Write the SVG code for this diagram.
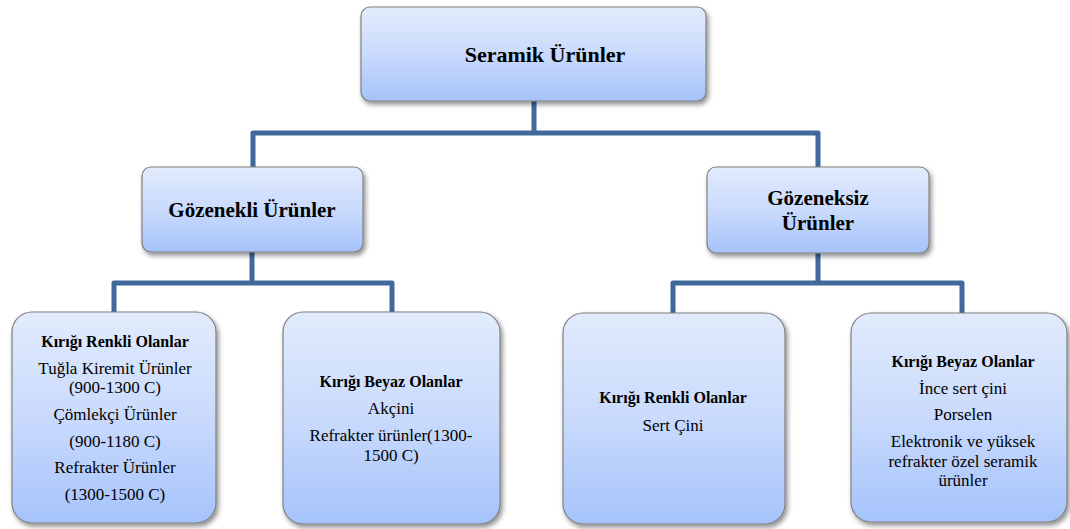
<svg xmlns="http://www.w3.org/2000/svg" width="1070" height="529" viewBox="0 0 1070 529">
<defs>
<linearGradient id="g" x1="0" y1="0" x2="0" y2="1">
<stop offset="0" stop-color="#e2ebfc"/>
<stop offset="0.5" stop-color="#c9dafc"/>
<stop offset="1" stop-color="#a5c3fb"/>
</linearGradient>
<filter id="sh" x="-10%" y="-10%" width="125%" height="130%">
<feGaussianBlur in="SourceAlpha" stdDeviation="2.5"/>
<feOffset dx="2" dy="3" result="b"/>
<feComponentTransfer><feFuncA type="linear" slope="0.45"/></feComponentTransfer>
<feMerge><feMergeNode/><feMergeNode in="SourceGraphic"/></feMerge>
</filter>
</defs>
<style>
.box{fill:url(#g);stroke:#808080;stroke-width:1.2;filter:url(#sh)}
.ln{fill:none;stroke:#41699c;stroke-width:5;stroke-linejoin:round}
.h1{font-size:22px;font-weight:bold}
.h2{font-size:21px;font-weight:bold}
.b{font-size:16px;font-weight:bold}
.r{font-size:17px}
</style>
<g id="connectors">
<path class="ln" d="M534,101 V133 M253,167 V133 H818 V167"/>
<path class="ln" d="M252,252 V283 M114,312 V283 H392 V312"/>
<path class="ln" d="M818,253 V283 M673,313 V283 H962 V313"/>
</g>
<g style="font-family:'Liberation Serif','Times New Roman','DejaVu Serif',Times,serif" text-anchor="middle" fill="#000">
<g id="n-seramik">
<rect class="box" x="361" y="7" width="345" height="94" rx="9"/>
<text class="h1" x="545" y="62">Seramik Ürünler</text>
</g>
<g id="n-gozenekli">
<rect class="box" x="142" y="167" width="221" height="85" rx="9"/>
<text class="h2" x="252" y="217">Gözenekli Ürünler</text>
</g>
<g id="n-gozeneksiz">
<rect class="box" x="707" y="167" width="222" height="86" rx="9"/>
<text class="h2" x="818" y="205">Gözeneksiz</text>
<text class="h2" x="818" y="230">Ürünler</text>
</g>
<g id="n-renkli1">
<rect class="box" x="12" y="312" width="204" height="211" rx="20"/>
<text class="b" x="115" y="347">Kırığı Renkli Olanlar</text>
<text class="r" x="115" y="374">Tuğla Kiremit Ürünler</text>
<text class="r" x="115" y="393">(900-1300 C)</text>
<text class="r" x="115" y="420">Çömlekçi Ürünler</text>
<text class="r" x="115" y="447">(900-1180 C)</text>
<text class="r" x="115" y="473">Refrakter Ürünler</text>
<text class="r" x="115" y="500">(1300-1500 C)</text>
</g>
<g id="n-beyaz1">
<rect class="box" x="283" y="312" width="217" height="212" rx="20"/>
<text class="b" x="391" y="387">Kırığı Beyaz Olanlar</text>
<text class="r" x="391" y="414">Akçini</text>
<text class="r" x="391" y="441">Refrakter ürünler(1300-</text>
<text class="r" x="391" y="461">1500 C)</text>
</g>
<g id="n-renkli2">
<rect class="box" x="563" y="313" width="222" height="211" rx="20"/>
<text class="b" x="673" y="403">Kırığı Renkli Olanlar</text>
<text class="r" x="673" y="431">Sert Çini</text>
</g>
<g id="n-beyaz2">
<rect class="box" x="851" y="313" width="216" height="209" rx="20"/>
<text class="b" x="963" y="367">Kırığı Beyaz Olanlar</text>
<text class="r" x="963" y="394">İnce sert çini</text>
<text class="r" x="963" y="420">Porselen</text>
<text class="r" x="963" y="447">Elektronik ve yüksek</text>
<text class="r" x="963" y="467">refrakter özel seramik</text>
<text class="r" x="963" y="486">ürünler</text>
</g>
</g>
</svg>
